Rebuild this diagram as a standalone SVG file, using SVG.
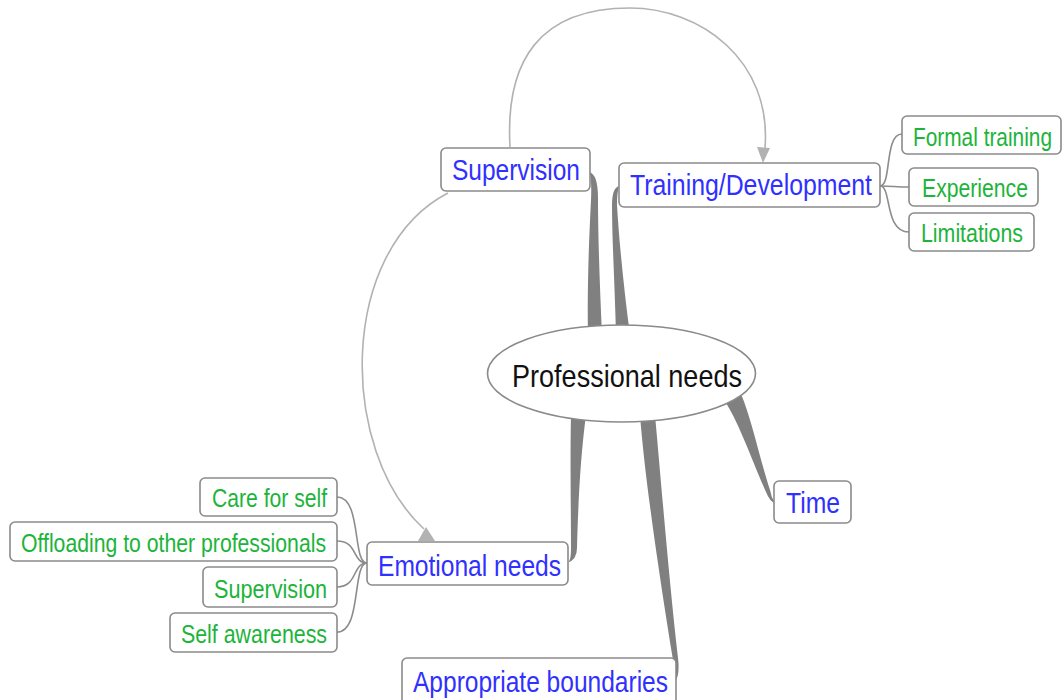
<svg xmlns="http://www.w3.org/2000/svg" width="1064" height="700" viewBox="0 0 1064 700">
<style>
.box{fill:#fff;stroke:#8a8a8a;stroke-width:1.6}
.t{font-family:"Liberation Sans",Arial,sans-serif}
.blue{fill:#3030ff;font-size:30px}
.green{fill:#1cb43a;font-size:26px}
.center{fill:#111;font-size:32px}
.branch{fill:#808080}
.link{fill:none;stroke:#8c8c8c;stroke-width:1.6}
.rel{fill:none;stroke:#b2b2b2;stroke-width:1.6}
.arrow{fill:#b2b2b2}
</style>
<rect width="1064" height="700" fill="#fff"/>
<g id="connectors">
  <path class="rel" d="M 510 147 C 505 60, 540 8, 630 8 C 700 8, 772 60, 765 148"/>
  <polygon class="arrow" points="757,147 770,148 763,163"/>
  <path class="rel" d="M 448 193 C 338 250, 338 450, 424 529"/>
  <polygon class="arrow" points="426,527 418,541 435,541"/>
  <path class="branch" d="M 588 335 C 587 290, 589 240, 591 200 Q 592 177 589 172 Q 598 174 598 198 C 598 240, 600 290, 602 335 Z"/>
  <path class="branch" d="M 616 335 C 615 290, 612 240, 612 205 Q 612 188 619 186 Q 617 193 617 205 C 619 240, 624 290, 630 335 Z"/>
  <path class="branch" d="M 571 415 C 570 460, 571 510, 571 550 Q 571 562 567 563 Q 577 560 577 548 C 578 510, 580 460, 586 415 Z"/>
  <path class="branch" d="M 640 415 C 645 480, 660 580, 673 660 Q 677 678 675 682 Q 680 675 678 658 C 669 580, 661 480, 655 415 Z"/>
  <path class="branch" d="M 724 400 C 738 420, 752 460, 766 492 Q 770 502 775 503 Q 771 497 770 490 C 760 460, 752 420, 741 394 Z"/>
  <path class="link" d="M 880 186 C 892 186, 884 134, 902 134"/>
  <path class="link" d="M 880 186 C 892 186, 896 187, 909 187"/>
  <path class="link" d="M 880 186 C 892 186, 884 232, 909 232"/>
  <path class="link" d="M 337 497 C 362 497, 352 563, 367 563"/>
  <path class="link" d="M 337 541 C 358 541, 352 563, 367 563"/>
  <path class="link" d="M 337 587 C 358 587, 352 563, 367 563"/>
  <path class="link" d="M 337 632 C 362 632, 352 563, 367 563"/>
</g>
<g id="professional-needs">
  <ellipse class="box" cx="621.5" cy="373.5" rx="134" ry="48.5"/>
  <text class="t center" x="512" y="387" textLength="230" lengthAdjust="spacingAndGlyphs">Professional needs</text>
</g>
<g id="supervision">
  <rect class="box" x="441" y="148" width="149" height="43" rx="5"/>
  <text class="t blue" x="452" y="180" textLength="128" lengthAdjust="spacingAndGlyphs">Supervision</text>
</g>
<g id="training">
  <rect class="box" x="619" y="163" width="261" height="44" rx="5"/>
  <text class="t blue" x="630" y="195" textLength="242" lengthAdjust="spacingAndGlyphs">Training/Development</text>
</g>
<g id="formal-training">
  <rect class="box" x="902" y="116" width="159" height="38" rx="5"/>
  <text class="t green" x="913" y="146" textLength="139" lengthAdjust="spacingAndGlyphs">Formal training</text>
</g>
<g id="experience">
  <rect class="box" x="909" y="168" width="129" height="38" rx="5"/>
  <text class="t green" x="922" y="197" textLength="106" lengthAdjust="spacingAndGlyphs">Experience</text>
</g>
<g id="limitations">
  <rect class="box" x="909" y="213" width="125" height="38" rx="5"/>
  <text class="t green" x="921" y="242" textLength="102" lengthAdjust="spacingAndGlyphs">Limitations</text>
</g>
<g id="time">
  <rect class="box" x="774" y="481" width="77" height="42" rx="5"/>
  <text class="t blue" x="786" y="513" textLength="54" lengthAdjust="spacingAndGlyphs">Time</text>
</g>
<g id="emotional-needs">
  <rect class="box" x="367" y="542" width="201" height="43" rx="5"/>
  <text class="t blue" x="378" y="576" textLength="183" lengthAdjust="spacingAndGlyphs">Emotional needs</text>
</g>
<g id="appropriate-boundaries">
  <rect class="box" x="402" y="658" width="274" height="50" rx="5"/>
  <text class="t blue" x="413" y="692" textLength="255" lengthAdjust="spacingAndGlyphs">Appropriate boundaries</text>
</g>
<g id="care-for-self">
  <rect class="box" x="200" y="478" width="137" height="38" rx="5"/>
  <text class="t green" x="212" y="507" textLength="115" lengthAdjust="spacingAndGlyphs">Care for self</text>
</g>
<g id="offloading">
  <rect class="box" x="10" y="522" width="327" height="39" rx="5"/>
  <text class="t green" x="21" y="552" textLength="305" lengthAdjust="spacingAndGlyphs">Offloading to other professionals</text>
</g>
<g id="supervision-emotional">
  <rect class="box" x="203" y="567" width="134" height="40" rx="5"/>
  <text class="t green" x="214" y="598" textLength="113" lengthAdjust="spacingAndGlyphs">Supervision</text>
</g>
<g id="self-awareness">
  <rect class="box" x="170" y="613" width="167" height="39" rx="5"/>
  <text class="t green" x="181" y="643" textLength="146" lengthAdjust="spacingAndGlyphs">Self awareness</text>
</g>
</svg>
